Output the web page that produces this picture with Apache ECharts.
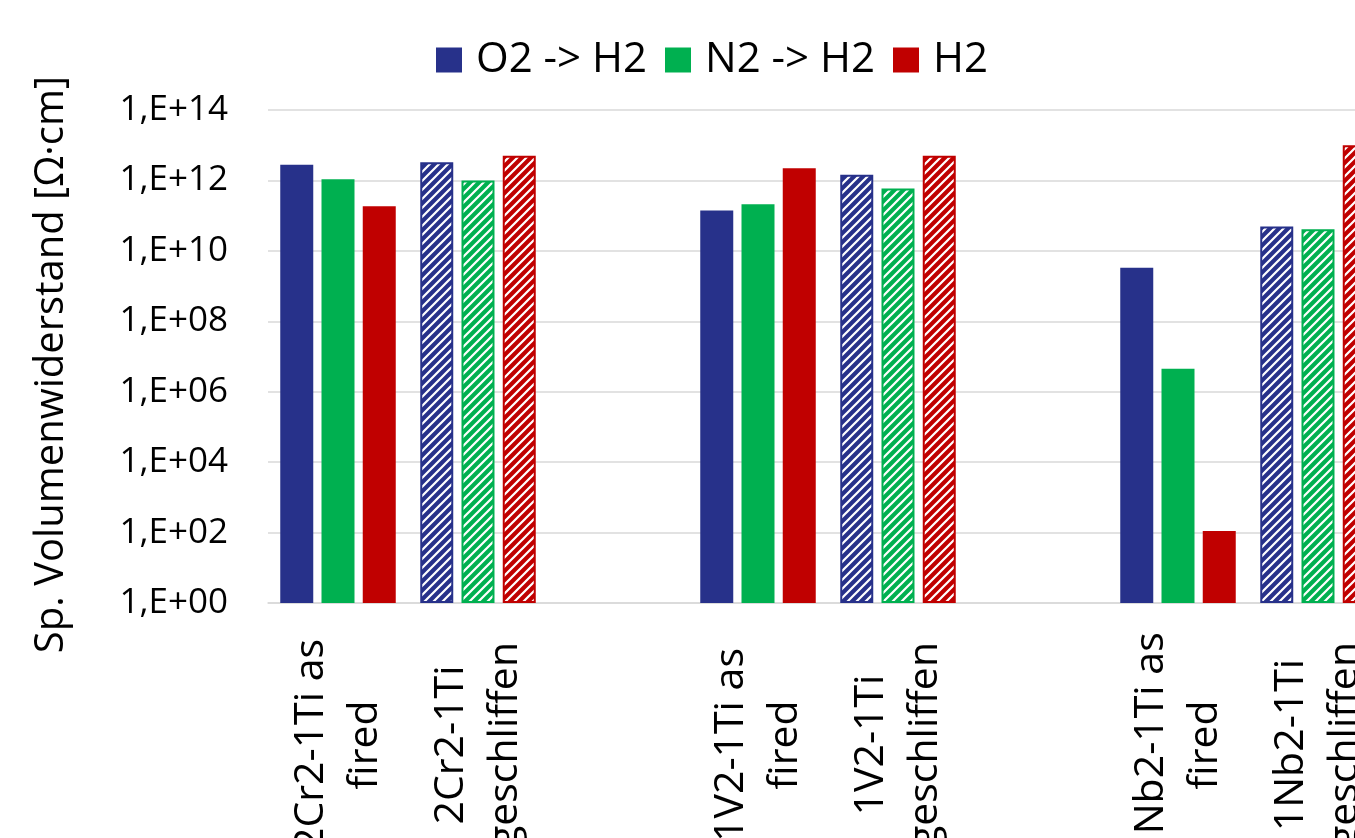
<!DOCTYPE html>
<html>
<head>
<meta charset="utf-8">
<title>Sp. Volumenwiderstand</title>
<script src="https://cdn.jsdelivr.net/npm/echarts@6/dist/echarts.min.js"></script>
<style>
  html, body { margin: 0; padding: 0; background: #fff; }
  #chart { width: 1355px; height: 838px; }
</style>
</head>
<body>
<div id="chart"></div>
<script>
// Kategorien (leere Einträge = Lücke zwischen den Gruppen)
const categories = [
  "2Cr2-1Ti as\nfired", "2Cr2-1Ti\ngeschliffen", "",
  "1V2-1Ti as\nfired", "1V2-1Ti\ngeschliffen", "",
  "1Nb2-1Ti as\nfired", "1Nb2-1Ti\ngeschliffen"
]
// geschliffene Proben werden schraffiert
const hatched = [false, true, false, false, true, false, false, true]

const seriesNames = ["O2 -> H2", "N2 -> H2", "H2"]
const o2h2 = [2.8e12, 3.3e12, null, 1.4e11, 1.45e12, null, 3.3e9, 4.9e10]
const n2h2 = [1.08e12, 1.0e12, null, 2.1e11, 5.9e11, null, 4.5e6, 4.1e10]
const h2 = [1.85e11, 5.0e12, null, 2.2e12, 5.0e12, null, 1.1e2, 1.0e13]

const colors = ["#27318a", "#00b050", "#c00000"]

/** Schraffur-Muster: farbige Fläche mit weißen Diagonalen */
function makeHatch(color) {
  const size = 9
  const c = document.createElement("canvas")
  c.width = size
  c.height = size
  const ctx = c.getContext("2d")
  ctx.fillStyle = color
  ctx.fillRect(0, 0, size, size)
  ctx.strokeStyle = "#ffffff"
  ctx.lineWidth = 2.2
  ctx.beginPath()
  ctx.moveTo(0, size)
  ctx.lineTo(size, 0)
  ctx.moveTo(-2, 2)
  ctx.lineTo(2, -2)
  ctx.moveTo(size - 2, size + 2)
  ctx.lineTo(size + 2, size - 2)
  ctx.stroke()
  return c
}

function buildData(values, color) {
  const pattern = { image: makeHatch(color), repeat: "repeat" }
  return values.map((v, i) => {
    if (v == null) return null
    if (!hatched[i]) return v
    return {
      value: v,
      itemStyle: { color: pattern, borderColor: color, borderWidth: 2 }
    }
  })
}

const font = "'Open Sans', 'Noto Sans', sans-serif"

const chart = echarts.init(document.getElementById("chart"))

const option = {
  animation: false,
  textStyle: { fontFamily: font, color: "#000" },
  legend: {
    left: 431,
    top: 34,
    icon: "rect",
    itemWidth: 26,
    itemHeight: 25,
    itemGap: 18,
    textStyle: { fontFamily: font, fontSize: 42, lineHeight: 42, color: "#000", padding: [0, 0, 0, 9] },
    data: seriesNames
  },
  grid: {
    left: 268,
    top: 110,
    width: 1120,
    bottom: 235,
    outerBoundsMode: "none",
    containLabel: false
  },
  xAxis: {
    type: "category",
    data: categories,
    axisLine: { show: true, lineStyle: { color: "#d9d9d9", width: 1.5 } },
    axisTick: { show: false },
    axisLabel: {
      interval: 0,
      rotate: 90,
      align: "center",
      verticalAlign: "middle",
      margin: 142,
      fontFamily: font,
      fontSize: 41,
      lineHeight: 54,
      color: "#000"
    }
  },
  yAxis: {
    type: "log",
    logBase: 10,
    min: 1,
    max: 1e14,
    interval: 2,
    name: "Sp. Volumenwiderstand [Ω·cm]",
    nameLocation: "middle",
    nameRotate: 90,
    nameGap: 196,
    nameTextStyle: { fontFamily: font, fontSize: 40, color: "#000", padding: [0, 16, 0, 0] },
    axisLine: { show: false },
    axisTick: { show: false },
    splitLine: { show: true, lineStyle: { color: "#d9d9d9", width: 1.5 } },
    axisLabel: {
      margin: 40,
      fontFamily: font,
      fontSize: 35,
      color: "#000",
      formatter: (v) => {
        const e = Math.round(Math.log10(v))
        return "1,E+" + String(e).padStart(2, "0")
      }
    }
  },
  series: [o2h2, n2h2, h2].map((vals, k) => ({
    type: "bar",
    name: seriesNames[k],
    data: buildData(vals, colors[k]),
    barWidth: 33,
    barGap: "25%",
    itemStyle: { color: colors[k] }
  }))
}

chart.setOption(option)
</script>
</body>
</html>
